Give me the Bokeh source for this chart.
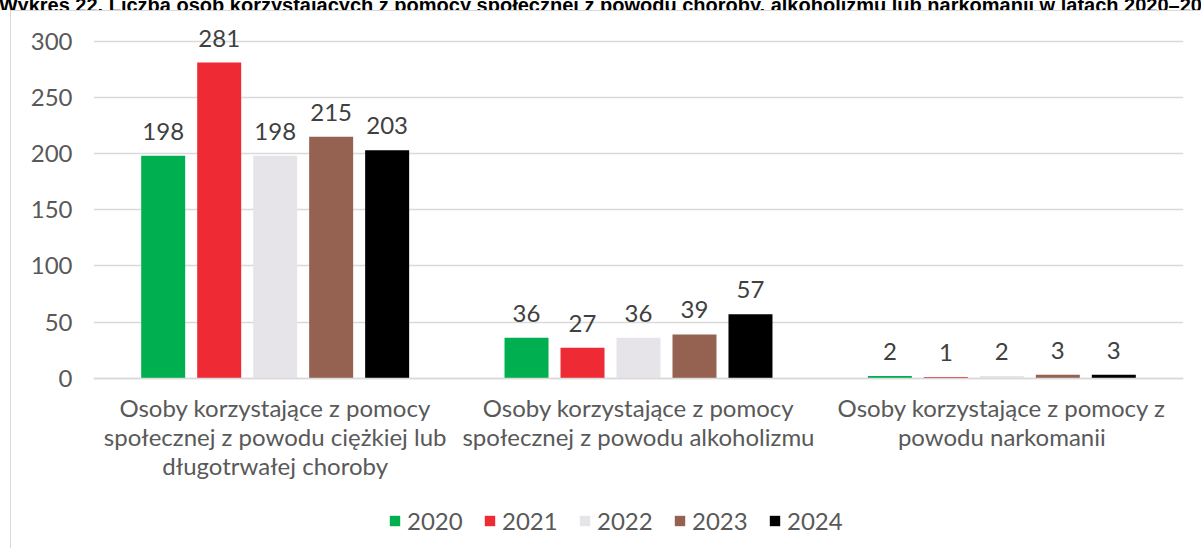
from bokeh.plotting import figure
from bokeh.models import (FactorRange, Range1d, ColumnDataSource, Legend, LegendItem,
                          FixedTicker, Div)
from bokeh.layouts import column
from bokeh.transform import dodge
from bokeh.core.properties import value
from bokeh.embed import file_html
from bokeh.resources import INLINE

title_text = ("Wykres 22. Liczba osób korzystających z pomocy społecznej z powodu choroby, "
              "alkoholizmu lub narkomanii w latach 2020–2024")
categories = [
    "Osoby korzystające z pomocy\nspołecznej z powodu ciężkiej lub\ndługotrwałej choroby",
    "Osoby korzystające z pomocy\nspołecznej z powodu alkoholizmu",
    "Osoby korzystające z pomocy z\npowodu narkomanii",
]
years = ["2020", "2021", "2022", "2023", "2024"]
v2020 = [198, 36, 2]
v2021 = [281, 27, 1]
v2022 = [198, 36, 2]
v2023 = [215, 39, 3]
v2024 = [203, 57, 3]
colors = ["#00B050", "#EE2B35", "#E7E4E9", "#956251", "#000000"]
y_ticks = [0, 50, 100, 150, 200, 250, 300]

series = [v2020, v2021, v2022, v2023, v2024]
data = {"cat": categories}
for y, vals in zip(years, series):
    data["v" + y] = vals
    data["t" + y] = [str(v) for v in vals]
src = ColumnDataSource(data)

FONT = "Lato"
GREY = "#595959"

title = Div(text=('<div style="margin-top:-12px; margin-left:-1px; white-space:nowrap; '
                  'font-family:\'Liberation Sans\', Arial, sans-serif; font-weight:bold; '
                  'font-size:20px; color:#000;">' + title_text + '</div>'),
            width=1201, height=10, margin=0, styles={"overflow": "hidden"})

PX = 337 / 300  # pixels per unit
p = figure(x_range=FactorRange(factors=categories, range_padding=0),
           y_range=Range1d(-171.3 / PX, 364.7 / PX),
           width=1190, height=538, output_backend="svg", toolbar_location=None,
           min_border_left=82, min_border_right=18, min_border_top=2, min_border_bottom=0)
p.styles = {"margin-left": "10px",
            "border-left": "1px solid #D9D9D9", "border-top": "1px solid #D9D9D9"}

pitch = 0.1541
bw = 0.1211
items = []
for i, (y, c) in enumerate(zip(years, colors)):
    off = (i - 2) * pitch
    r = p.vbar(x=dodge("cat", off, range=p.x_range), top="v" + y, width=bw, source=src,
               fill_color=c, line_color=None)
    p.text(x=dodge("cat", off, range=p.x_range), y="v" + y, text="t" + y, source=src,
           text_align="center", text_baseline="bottom", y_offset=-16,
           text_font=value(FONT), text_font_size="24px", text_color="#404040")
    items.append(LegendItem(label=y, renderers=[r]))

legend = Legend(items=items, orientation="horizontal", location=(295, 14),
                border_line_color=None, background_fill_alpha=0, padding=0, margin=0,
                spacing=17, label_standoff=6, label_width=59, glyph_width=13, glyph_height=13,
                label_text_font=FONT, label_text_font_size="24px", label_text_color=GREY)
p.add_layout(legend, "center")

p.xgrid.grid_line_color = None
p.ygrid.grid_line_color = "#D9D9D9"
p.ygrid.grid_line_width = 1.5
p.ygrid.ticker = FixedTicker(ticks=y_ticks)
p.outline_line_color = None

p.yaxis.ticker = FixedTicker(ticks=y_ticks)
p.yaxis.axis_line_color = None
p.yaxis.major_tick_line_color = None
p.yaxis.minor_tick_line_color = None
p.yaxis.major_tick_out = 0
p.yaxis.major_label_standoff = 21
p.yaxis.major_label_text_font = FONT
p.yaxis.major_label_text_font_size = "24px"
p.yaxis.major_label_text_color = GREY

p.xaxis.fixed_location = 0
p.xaxis.axis_line_color = "#D9D9D9"
p.xaxis.axis_line_width = 1.5
p.xaxis.major_tick_line_color = None
p.xaxis.major_tick_out = 0
p.xaxis.major_label_standoff = 15
p.xaxis.major_label_text_font = FONT
p.xaxis.major_label_text_font_size = "24px"
p.xaxis.major_label_text_line_height = 1.0
p.xaxis.major_label_text_color = GREY

layout = column(title, p, spacing=0)
open("out.html", "w").write(file_html(layout, INLINE))
